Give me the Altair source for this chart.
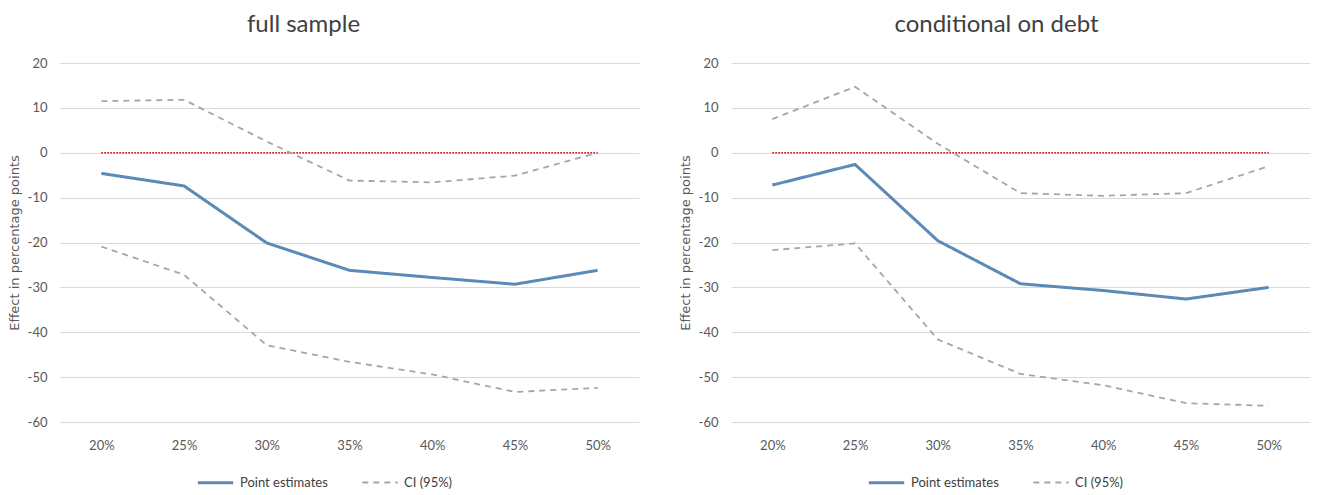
import altair as alt
import pandas as pd

# ---- data ----
thresholds = ["20%", "25%", "30%", "35%", "40%", "45%", "50%"]

full_point = [-4.6, -7.4, -20.1, -26.2, -27.8, -29.3, -26.2]
full_upper = [11.5, 11.8, 2.5, -6.2, -6.6, -5.1, 0.0]
full_lower = [-20.9, -27.2, -42.9, -46.6, -49.4, -53.3, -52.4]

debt_point = [-7.2, -2.6, -19.6, -29.2, -30.7, -32.6, -30.0]
debt_upper = [7.5, 14.7, 2.0, -9.0, -9.6, -9.0, -3.0]
debt_lower = [-21.7, -20.2, -41.6, -49.3, -51.8, -55.8, -56.4]

panel_titles = ["full sample", "conditional on debt"]
series_names = ["Point estimates", "CI (95%)"]
y_ticks = [20, 10, 0, -10, -20, -30, -40, -50, -60]
y_title = "Effect in percentage points"

# ---- styling ----
W, H = 579, 359
FONT = "Lato, Open Sans, sans-serif"
AXIS_TITLE_FONT = "DejaVu Sans, Open Sans, sans-serif"
TEXT = "#595959"
BLUE = "#5a8ab5"
GREY = "#a6a6a6"
RED = "#c00000"


def panel(title, point, upper, lower, dx):
    rows = []
    for t, p, u, l in zip(thresholds, point, upper, lower):
        rows.append({"threshold": t, "value": p, "series": series_names[0], "line": "point"})
        rows.append({"threshold": t, "value": u, "series": series_names[1], "line": "upper"})
        rows.append({"threshold": t, "value": l, "series": series_names[1], "line": "lower"})
    df = pd.DataFrame(rows)
    zero_df = pd.DataFrame({"threshold": [thresholds[0], thresholds[-1]], "value": [0, 0]})

    x = alt.X(
        "threshold:N",
        sort=thresholds,
        title=None,
        scale=alt.Scale(domain=thresholds),
        axis=alt.Axis(
            labelAngle=0, domain=False, ticks=False, grid=False,
            labelPadding=17, labelFontSize=13, labelFont=FONT, labelColor=TEXT,
        ),
    )
    y = alt.Y(
        "value:Q",
        scale=alt.Scale(domain=[-60, 20], nice=False, zero=False),
        axis=alt.Axis(
            values=y_ticks, title=y_title, domain=False, ticks=False,
            labelExpr="'' + datum.value",
            gridColor="#d9d9d9", gridWidth=1,
            labelPadding=13, labelFontSize=13, labelFont=FONT, labelColor=TEXT,
            titleFont=AXIS_TITLE_FONT, titleFontSize=13, titleFontWeight="normal",
            titleColor=TEXT, titlePadding=6,
        ),
    )

    legend = alt.Legend(
        title=None, orient="none", legendX=136, legendY=H + 41,
        direction="horizontal", symbolType="stroke", symbolSize=1250,
        labelFont=FONT, labelFontSize=13, labelColor="#404040",
        columnPadding=30, labelOffset=5,
    )

    zero = alt.Chart(zero_df).mark_line(
        color=RED, strokeDash=[1.5, 1.5], strokeWidth=1.5
    ).encode(x=x, y=y)

    lines = alt.Chart(df).mark_line().encode(
        x=x,
        y=y,
        color=alt.Color("series:N", sort=series_names,
                        scale=alt.Scale(domain=series_names, range=[BLUE, GREY]),
                        legend=legend),
        strokeDash=alt.StrokeDash("series:N", sort=series_names,
                                  scale=alt.Scale(domain=series_names, range=[[1, 0], [6, 5]]),
                                  legend=legend),
        strokeWidth=alt.StrokeWidth("series:N", sort=series_names,
                                    scale=alt.Scale(domain=series_names, range=[3, 1.8]),
                                    legend=legend),
        detail="line:N",
    )

    return alt.layer(zero, lines).properties(
        width=W,
        height=H,
        title=alt.TitleParams(
            text=title, fontSize=24, font=FONT, color="#404040",
            fontWeight="normal", offset=20, dx=dx, anchor="middle",
        ),
    )


left = panel(panel_titles[0], full_point, full_upper, full_lower, -46)
right = panel(panel_titles[1], debt_point, debt_upper, debt_lower, -24)

chart = (
    alt.hconcat(left, right, spacing=40)
    .resolve_scale(color="independent", strokeDash="independent", strokeWidth="independent")
    .resolve_legend(color="independent", strokeDash="independent", strokeWidth="independent")
    .configure(
        background="white",
        padding={"top": 5, "left": 0, "right": 0, "bottom": 0},
        view=alt.ViewConfig(stroke=None),
    )
)

chart.save("out.html", embed_options={"renderer": "svg", "actions": False})
